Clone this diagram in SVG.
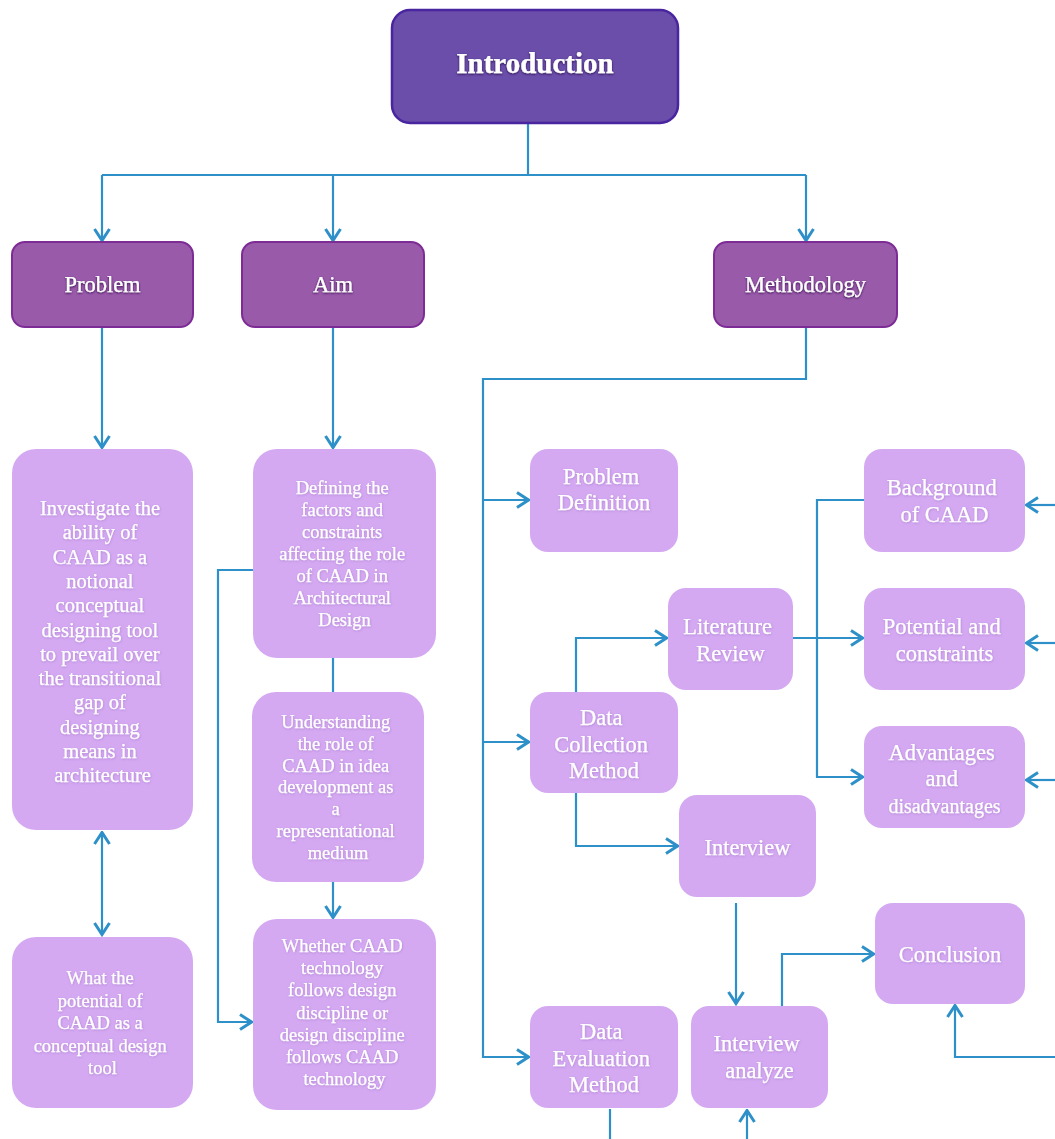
<svg xmlns="http://www.w3.org/2000/svg" width="1055" height="1139" viewBox="0 0 1055 1139">
  <defs>
    <style>
      .intro { fill: #6a4eaa; stroke: #4a25a0; stroke-width: 2.5; }
      .head { fill: #9a5aaa; stroke: #7e2c95; stroke-width: 2; }
      .leaf { fill: #d4a9f2; stroke: none; }
      .wire { fill: none; stroke: #2e90c8; stroke-width: 2.2; }
      .arrow { marker-end: url(#chev); }
      .t { font-family: "Liberation Serif", "Times New Roman", serif; fill: #ffffff; text-anchor: middle; stroke: #ffffff; stroke-width: 0.25; }
      .t-intro { font-size: 29px; font-weight: bold; filter: url(#darkGlow); }
      .t-head { font-size: 22.5px; filter: url(#darkGlow); }
      .t-big { font-size: 20.5px; filter: url(#softGlow); }
      .t-mid { font-size: 18.5px; filter: url(#softGlow); }
      .t-side { font-size: 22.5px; filter: url(#softGlow); }
    </style>
    <marker id="chev" viewBox="0 0 15 18" refX="13.5" refY="9" markerWidth="15" markerHeight="18" markerUnits="userSpaceOnUse" orient="auto-start-reverse">
      <path d="M1.5,1.5 L13,9 L1.5,16.5" fill="none" stroke="#2e90c8" stroke-width="3" stroke-linejoin="miter"/>
    </marker>
    <filter id="darkGlow" x="-10%" y="-30%" width="120%" height="160%">
      <feDropShadow dx="0" dy="1" stdDeviation="1.2" flood-color="#2a0a45" flood-opacity="0.9"/>
    </filter>
    <filter id="softGlow" x="-10%" y="-30%" width="120%" height="160%">
      <feDropShadow dx="0.5" dy="0.8" stdDeviation="0.8" flood-color="#9a6ab8" flood-opacity="0.55"/>
    </filter>
  </defs>

  <rect width="1055" height="1139" fill="#ffffff"/>

  <!-- connectors -->
  <g id="connectors">
    <path class="wire" d="M528,123 V175"/>
    <path class="wire" d="M102,175 H806"/>
    <path class="wire arrow" d="M102,175 V241"/>
    <path class="wire arrow" d="M333,175 V241"/>
    <path class="wire arrow" d="M806,175 V241"/>

    <path class="wire arrow" d="M102,328 V448"/>
    <path class="wire arrow" d="M333,328 V448"/>
    <path class="wire" d="M333,658 V692"/>
    <path class="wire arrow" d="M333,882 V918"/>
    <path class="wire arrow" d="M253,570 H218 V1022 H252"/>
    <path class="wire" d="M102,832 V935" marker-start="url(#chev)" marker-end="url(#chev)"/>

    <path class="wire arrow" d="M806,328 V379 H483 V1057 H529"/>
    <path class="wire arrow" d="M483,500 H529"/>
    <path class="wire arrow" d="M483,742 H529"/>
    <path class="wire arrow" d="M576,692 V638 H667"/>
    <path class="wire arrow" d="M793,638 H863"/>
    <path class="wire arrow" d="M864,500 H817 V777 H863"/>
    <path class="wire arrow" d="M576,793 V846 H678"/>
    <path class="wire arrow" d="M736,903 V1004"/>
    <path class="wire arrow" d="M782,1006 V954 H874"/>

    <path class="wire arrow" d="M1055,505 H1026"/>
    <path class="wire arrow" d="M1055,643 H1026"/>
    <path class="wire arrow" d="M1055,780 H1026"/>
    <path class="wire arrow" d="M1055,1057 H955 V1005"/>
    <path class="wire" d="M610,1109 V1139"/>
    <path class="wire arrow" d="M747,1139 V1110"/>
  </g>

  <!-- top level -->
  <g id="introduction">
    <rect class="intro" x="392" y="10" width="286" height="113" rx="18"/>
    <text class="t t-intro" x="535" y="73">Introduction</text>
  </g>

  <g id="problem">
    <rect class="head" x="12" y="242" width="181" height="85" rx="13"/>
    <text class="t t-head" x="102.5" y="292">Problem</text>
  </g>
  <g id="aim">
    <rect class="head" x="242" y="242" width="182" height="85" rx="13"/>
    <text class="t t-head" x="333" y="292">Aim</text>
  </g>
  <g id="methodology">
    <rect class="head" x="714" y="242" width="183" height="85" rx="13"/>
    <text class="t t-head" x="805.5" y="292">Methodology</text>
  </g>

  <!-- problem column -->
  <g id="problem-statement">
    <rect class="leaf" x="12" y="449" width="181" height="381" rx="24"/>
    <text class="t t-big" y="515">
      <tspan x="102.5">Investigate the</tspan>
      <tspan x="102.5" dy="24.3">ability of</tspan>
      <tspan x="102.5" dy="24.3">CAAD as a</tspan>
      <tspan x="102.5" dy="24.3">notional</tspan>
      <tspan x="102.5" dy="24.3">conceptual</tspan>
      <tspan x="102.5" dy="24.3">designing tool</tspan>
      <tspan x="102.5" dy="24.3">to prevail over</tspan>
      <tspan x="102.5" dy="24.3">the transitional</tspan>
      <tspan x="102.5" dy="24.3">gap of</tspan>
      <tspan x="102.5" dy="24.3">designing</tspan>
      <tspan x="102.5" dy="24.3">means in</tspan>
      <tspan x="102.5" dy="24.3">architecture</tspan>
    </text>
  </g>
  <g id="problem-question">
    <rect class="leaf" x="12" y="937" width="181" height="171" rx="24"/>
    <text class="t t-mid" y="984">
      <tspan x="102.5">What the</tspan>
      <tspan x="102.5" dy="22.5">potential of</tspan>
      <tspan x="102.5" dy="22.5">CAAD as a</tspan>
      <tspan x="102.5" dy="22.5">conceptual design</tspan>
      <tspan x="102.5" dy="22.5">tool</tspan>
    </text>
  </g>

  <!-- aim column -->
  <g id="aim-factors">
    <rect class="leaf" x="253" y="449" width="183" height="209" rx="24"/>
    <text class="t t-mid" y="494">
      <tspan x="344.5">Defining the</tspan>
      <tspan x="344.5" dy="22">factors and</tspan>
      <tspan x="344.5" dy="22">constraints</tspan>
      <tspan x="344.5" dy="22">affecting the role</tspan>
      <tspan x="344.5" dy="22">of CAAD in</tspan>
      <tspan x="344.5" dy="22">Architectural</tspan>
      <tspan x="344.5" dy="22">Design</tspan>
    </text>
  </g>
  <g id="aim-role">
    <rect class="leaf" x="252" y="692" width="172" height="190" rx="24"/>
    <text class="t t-mid" y="728">
      <tspan x="338">Understanding</tspan>
      <tspan x="338" dy="21.8">the role of</tspan>
      <tspan x="338" dy="21.8">CAAD in idea</tspan>
      <tspan x="338" dy="21.8">development as</tspan>
      <tspan x="338" dy="21.8">a</tspan>
      <tspan x="338" dy="21.8">representational</tspan>
      <tspan x="338" dy="21.8">medium</tspan>
    </text>
  </g>
  <g id="aim-question">
    <rect class="leaf" x="253" y="919" width="183" height="191" rx="24"/>
    <text class="t t-mid" y="952">
      <tspan x="344.5">Whether CAAD</tspan>
      <tspan x="344.5" dy="22.2">technology</tspan>
      <tspan x="344.5" dy="22.2">follows design</tspan>
      <tspan x="344.5" dy="22.2">discipline or</tspan>
      <tspan x="344.5" dy="22.2">design discipline</tspan>
      <tspan x="344.5" dy="22.2">follows CAAD</tspan>
      <tspan x="344.5" dy="22.2">technology</tspan>
    </text>
  </g>

  <!-- methodology branch -->
  <g id="problem-definition">
    <rect class="leaf" x="530" y="449" width="148" height="103" rx="18"/>
    <text class="t t-side" y="484">
      <tspan x="604">Problem</tspan>
      <tspan x="604" dy="26">Definition</tspan>
    </text>
  </g>
  <g id="data-collection">
    <rect class="leaf" x="530" y="692" width="148" height="101" rx="18"/>
    <text class="t t-side" y="725">
      <tspan x="604">Data</tspan>
      <tspan x="604" dy="26.5">Collection</tspan>
      <tspan x="604" dy="26.5">Method</tspan>
    </text>
  </g>
  <g id="data-evaluation">
    <rect class="leaf" x="530" y="1006" width="148" height="102" rx="18"/>
    <text class="t t-side" y="1039">
      <tspan x="604">Data</tspan>
      <tspan x="604" dy="26.5">Evaluation</tspan>
      <tspan x="604" dy="26.5">Method</tspan>
    </text>
  </g>
  <g id="literature-review">
    <rect class="leaf" x="668" y="588" width="125" height="102" rx="18"/>
    <text class="t t-side" y="634">
      <tspan x="730.5">Literature</tspan>
      <tspan x="730.5" dy="26.5">Review</tspan>
    </text>
  </g>
  <g id="interview">
    <rect class="leaf" x="679" y="795" width="137" height="102" rx="18"/>
    <text class="t t-side" x="747.5" y="855">Interview</text>
  </g>
  <g id="interview-analyze">
    <rect class="leaf" x="691" y="1006" width="137" height="102" rx="18"/>
    <text class="t t-side" y="1051">
      <tspan x="759.5">Interview</tspan>
      <tspan x="759.5" dy="27">analyze</tspan>
    </text>
  </g>
  <g id="background-of-caad">
    <rect class="leaf" x="864" y="449" width="161" height="103" rx="18"/>
    <text class="t t-side" y="495">
      <tspan x="944.5">Background</tspan>
      <tspan x="944.5" dy="27">of CAAD</tspan>
    </text>
  </g>
  <g id="potential-and-constraints">
    <rect class="leaf" x="864" y="588" width="161" height="102" rx="18"/>
    <text class="t t-side" y="634">
      <tspan x="944.5">Potential and</tspan>
      <tspan x="944.5" dy="26.5">constraints</tspan>
    </text>
  </g>
  <g id="advantages">
    <rect class="leaf" x="864" y="726" width="161" height="102" rx="18"/>
    <text class="t t-side" y="760">
      <tspan x="944.5">Advantages</tspan>
      <tspan x="944.5" dy="25.5">and</tspan>
      <tspan x="944.5" dy="27" font-size="20">disadvantages</tspan>
    </text>
  </g>
  <g id="conclusion">
    <rect class="leaf" x="875" y="903" width="150" height="101" rx="18"/>
    <text class="t t-side" x="950" y="962">Conclusion</text>
  </g>
</svg>
